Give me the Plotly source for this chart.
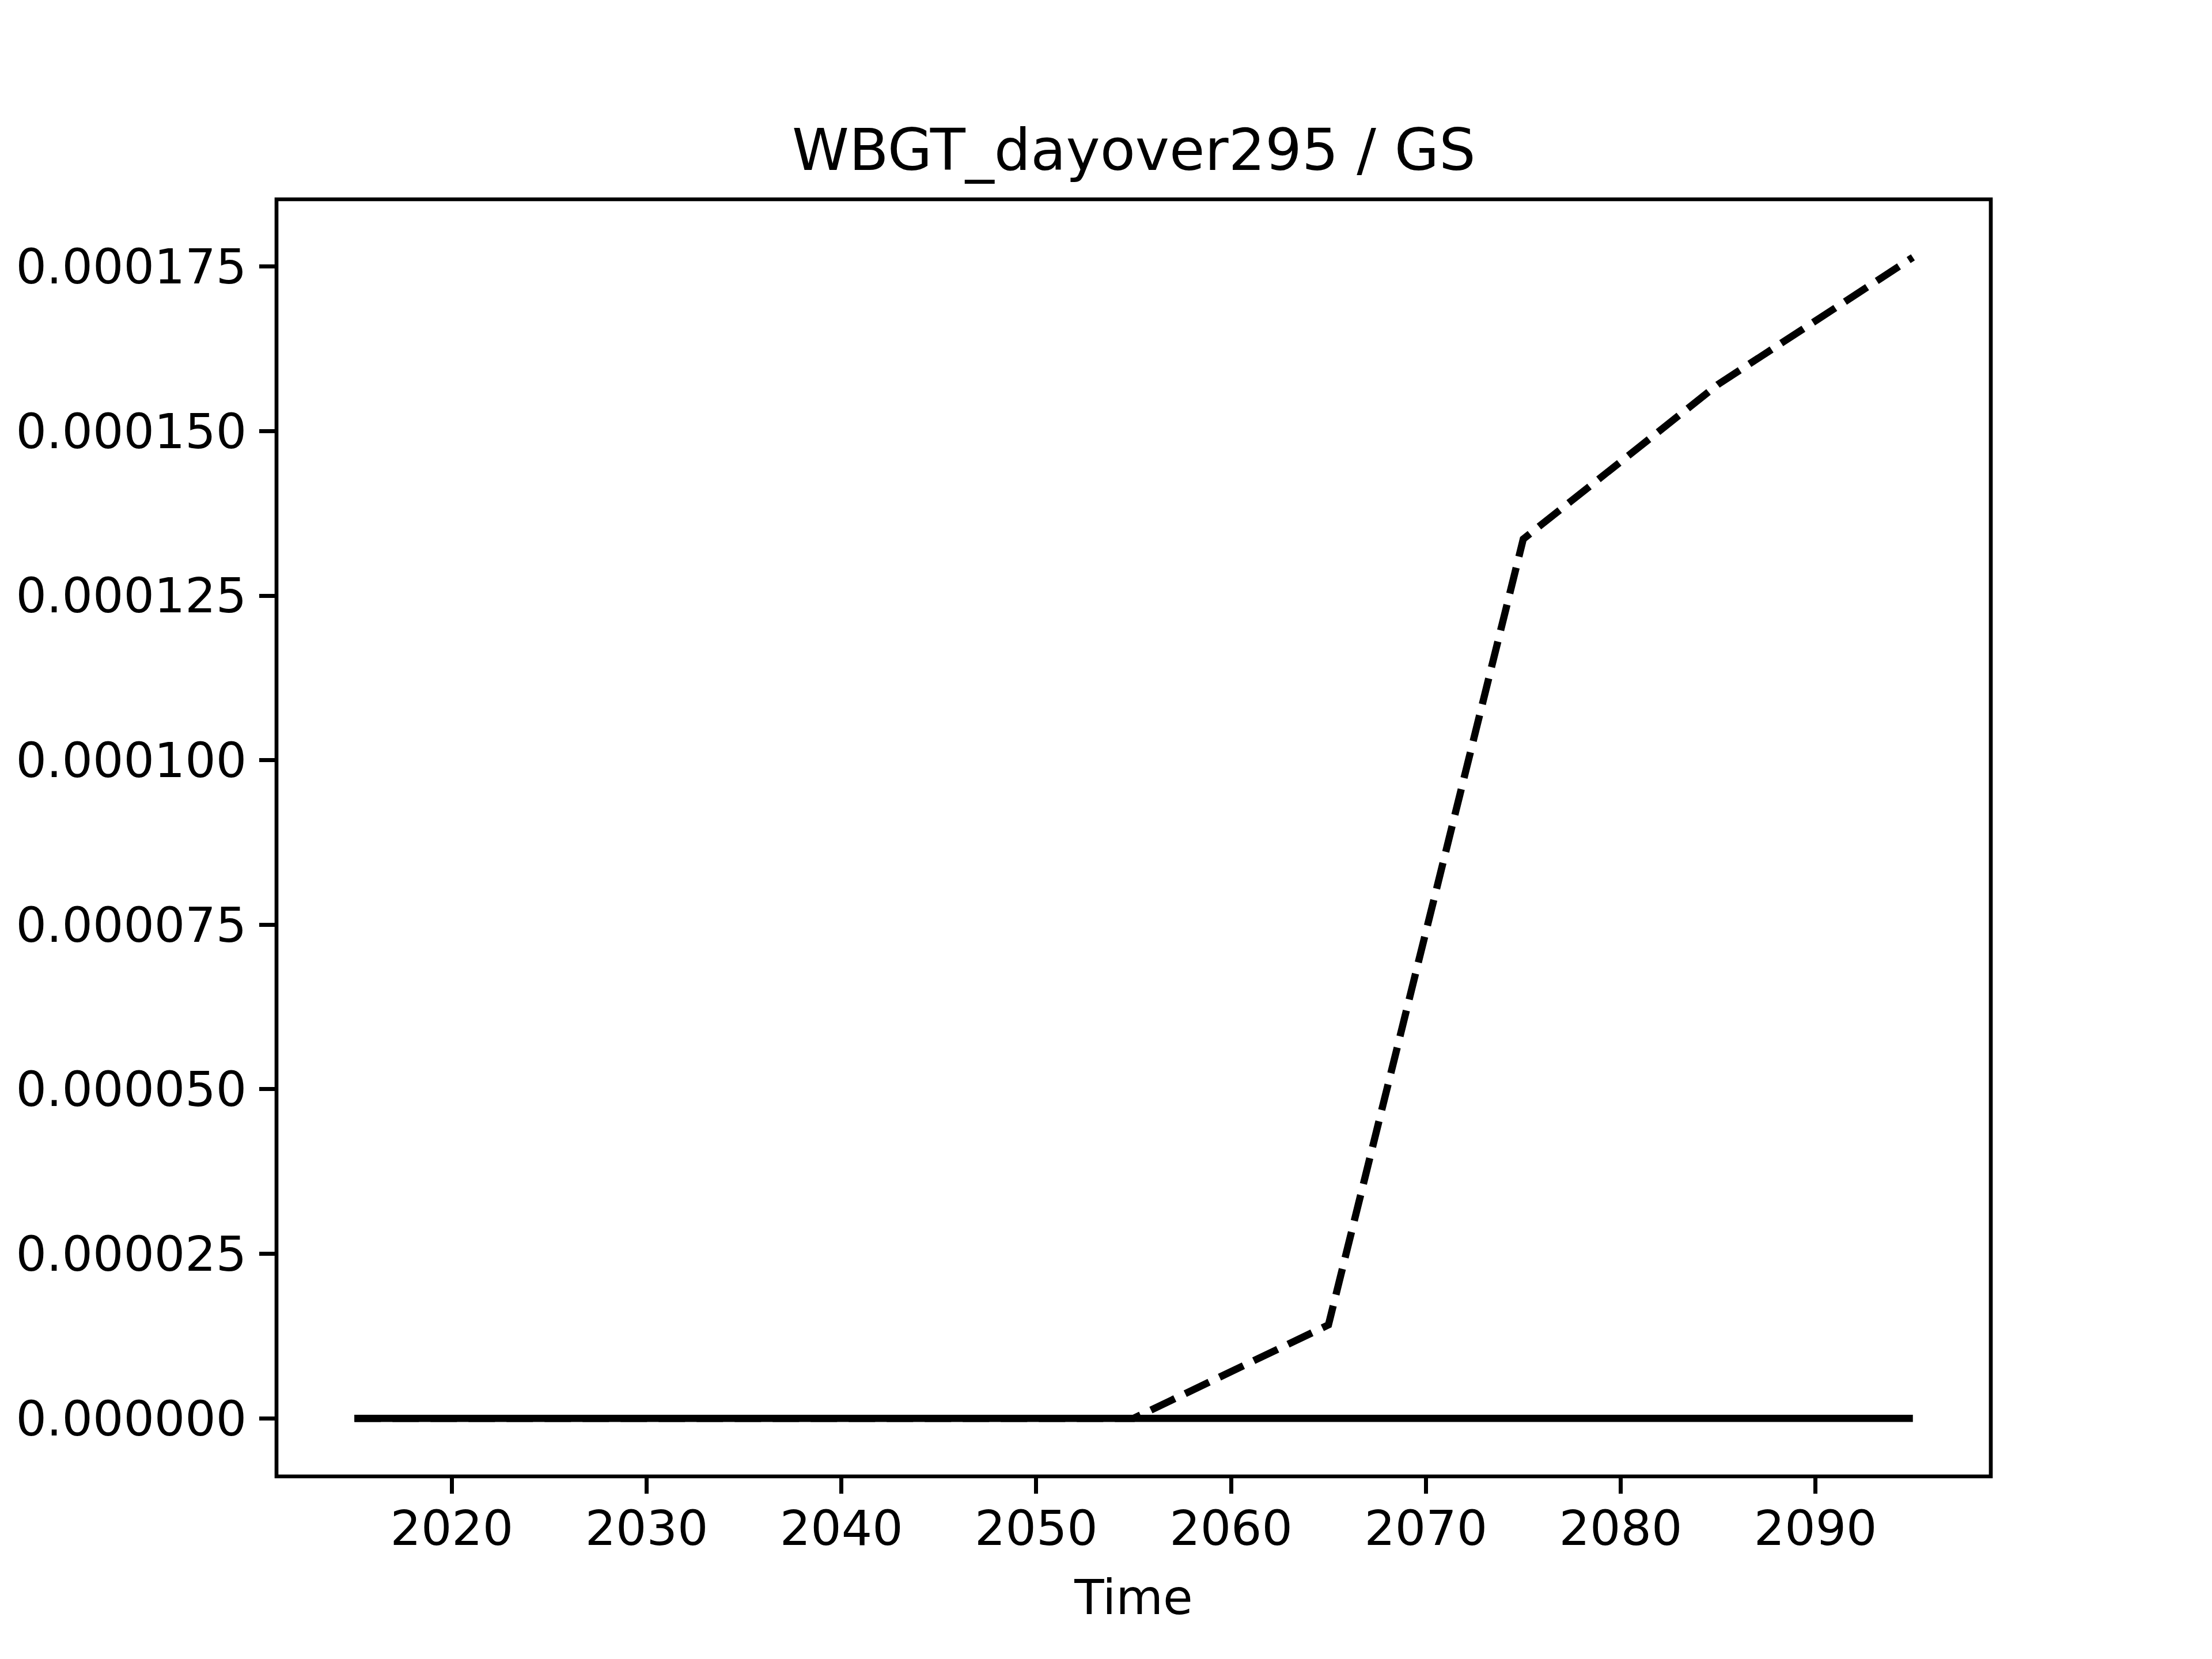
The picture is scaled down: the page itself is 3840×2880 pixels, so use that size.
import plotly.graph_objects as go

years = [2015, 2025, 2035, 2045, 2055, 2065, 2075, 2085, 2095]
dashed_values = [0.0, 0.0, 0.0, 0.0, 0.0, 1.42e-5, 1.336e-4, 1.571e-4, 1.764e-4]
solid_values = [0.0, 0.0, 0.0, 0.0, 0.0, 0.0, 0.0, 0.0, 0.0]
x_ticks = [2020, 2030, 2040, 2050, 2060, 2070, 2080, 2090]
y_ticks = [0.0, 0.000025, 0.00005, 0.000075, 0.0001, 0.000125, 0.00015, 0.000175]
title_text = "WBGT_dayover295 / GS"
x_label = "Time"

FONT = "DejaVu Sans"
LW = 12.5
SPINE = 6.67

fig = go.Figure()
fig.add_trace(go.Scatter(x=years, y=dashed_values, mode="lines",
                         line=dict(color="black", width=LW, dash="46px,20px"),
                         showlegend=False))
fig.add_trace(go.Scatter(x=years, y=solid_values, mode="lines",
                         line=dict(color="black", width=LW),
                         showlegend=False))

ymax = max(dashed_values)
ymin = min(min(dashed_values), min(solid_values))
span = ymax - ymin
xspan = years[-1] - years[0]

axis_common = dict(showgrid=False, zeroline=False, showline=False,
                   ticks="outside",
                   ticklen=29, tickwidth=SPINE, tickcolor="black",
                   tickfont=dict(family=FONT, size=84, color="black"))

fig.update_layout(
    width=3832, height=2872,
    margin=dict(l=472, r=384, t=338, b=317),
    paper_bgcolor="white", plot_bgcolor="white",
    font=dict(family=FONT, color="black"),
    xaxis=dict(range=[years[0] - 0.05 * xspan, years[-1] + 0.05 * xspan],
               tickvals=x_ticks, ticktext=[str(t) for t in x_ticks],
               ticklabelstandoff=-12,
               title=dict(text=x_label, font=dict(family=FONT, size=84, color="black"), standoff=42),
               **axis_common),
    yaxis=dict(range=[ymin - 0.05 * span, ymax + 0.05 * span],
               tickvals=y_ticks, tickformat=".6f",
               ticklabelstandoff=5,
               **axis_common),
    shapes=[dict(type="rect", xref="paper", yref="paper", x0=0, y0=0, x1=1, y1=1,
                 line=dict(color="black", width=SPINE), fillcolor="rgba(0,0,0,0)",
                 layer="above")],
    annotations=[dict(text=title_text, xref="paper", yref="paper", x=0.5, y=1,
                      xanchor="center", yanchor="bottom", yshift=25, showarrow=False,
                      font=dict(family=FONT, size=100, color="black"))],
)

fig.write_html("out.html")
